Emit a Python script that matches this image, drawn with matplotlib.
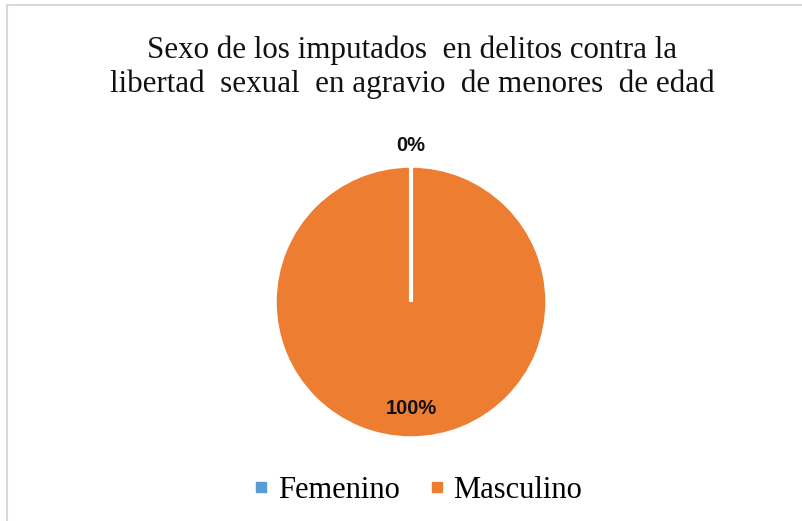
import numpy as np
import matplotlib.pyplot as plt
from matplotlib.patches import Rectangle
from matplotlib.lines import Line2D

labels = ['Femenino', 'Masculino']
values = [0, 100]
colors = ['#5B9BD5', '#ED7D31']
title = 'Sexo de los imputados  en delitos contra la\nlibertad  sexual  en agravio  de menores  de edad'

W, H = 803, 521
fig = plt.figure(figsize=(W/100, H/100), dpi=100)

# chart frame (only left/top visible in the reference)
fig.patches.append(Rectangle((7/W, -0.1), 1.2, 1 - 5/H + 0.1, transform=fig.transFigure,
                             fill=False, edgecolor='#D9D9D9', linewidth=1.5))

fig.text(412/W, 1 - 67/H, title, ha='center', va='center', family='Liberation Serif',
         fontsize=22.3, linespacing=1.22, color='#111111')

r = 136
ax = fig.add_axes([(411 - r)/W, (H - 302 - r)/H, 2*r/W, 2*r/H])
wedges, texts, autotexts = ax.pie(values, colors=colors, startangle=90, counterclock=False,
                                  radius=1, autopct='%1.0f%%', pctdistance=0.78,
                                  wedgeprops=dict(edgecolor='white', linewidth=2.5),
                                  textprops=dict(fontsize=14.5, fontweight='bold',
                                                 family='Liberation Sans', color='#111111'))
autotexts[0].set_position((0, 1.15))
# boundary between the zero slice and the full slice
ang = np.deg2rad(wedges[0].theta1)
ax.plot([0, np.cos(ang)], [0, np.sin(ang)], color='white', lw=3, solid_capstyle='butt')
ax.set_xlim(-1, 1)
ax.set_ylim(-1, 1)
ax.set_aspect('auto')
ax.axis('off')

handles = [Line2D([], [], ls='none', marker='s', markersize=7.5, color=c) for c in colors]
fig.legend(handles, labels, loc='center', bbox_to_anchor=(418/W, 1 - 490/H), ncol=2,
           frameon=False, prop=dict(family='Liberation Serif', size=22),
           handlelength=0.5, handletextpad=0.3, columnspacing=0.95)

fig.savefig('out.png', dpi=100)
